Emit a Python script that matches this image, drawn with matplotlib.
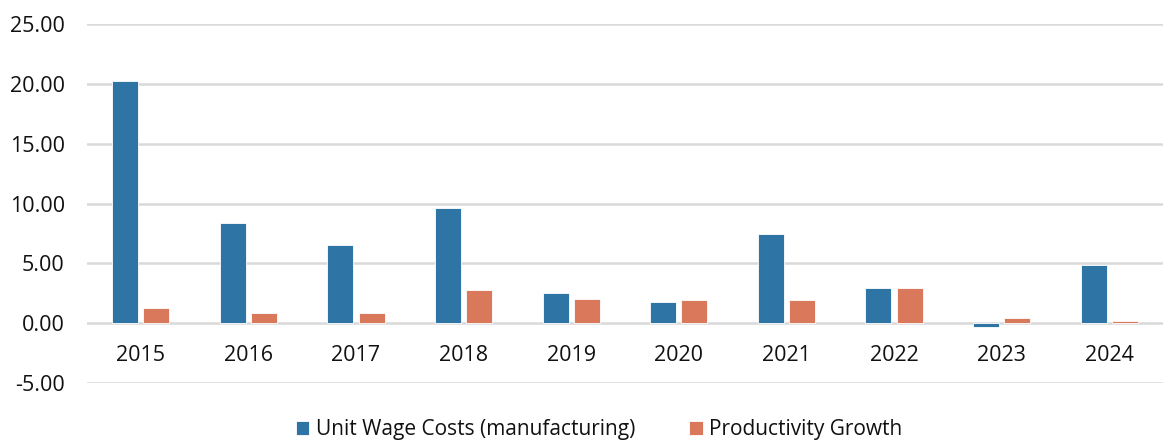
import numpy as np
import matplotlib.pyplot as plt

# [DATA] ======================================================================
years = ['2015', '2016', '2017', '2018', '2019', '2020', '2021', '2022', '2023', '2024']
unit_wage_costs = [20.2, 8.4, 6.5, 9.6, 2.55, 1.8, 7.45, 2.95, -0.35, 4.9]
productivity_growth = [1.3, 0.85, 0.85, 2.8, 2.05, 1.95, 1.95, 2.9, 0.4, 0.2]

# [PLOTTING] ==================================================================
plt.rcParams['font.family'] = ['Open Sans', 'DejaVu Sans']

blue = '#2E75A6'
orange = '#D9785A'
text_color = '#111111'

fig = plt.figure(figsize=(11.63, 4.43), dpi=100)
ax = fig.add_axes([0.0748, 0.1354, 0.9252, 0.8104])

x = np.arange(len(years))
w = 0.24
ax.bar(x - 0.145, unit_wage_costs, w, color=blue, edgecolor='white', linewidth=0.6,
       label='Unit Wage Costs (manufacturing)', zorder=3)
ax.bar(x + 0.145, productivity_growth, w, color=orange, edgecolor='white', linewidth=0.6,
       label='Productivity Growth', zorder=3)

ax.set_ylim(-5, 25)
ax.set_xlim(-0.5, len(years) - 0.5)
ax.set_yticks(np.arange(-5, 26, 5))
ax.set_yticklabels([f'{v:.2f}' for v in np.arange(-5, 26, 5)])
ax.set_xticks(x)
ax.set_xticklabels(years)

# category labels sit just under the zero line
ax.spines['bottom'].set_position(('data', 0))
for s in ['top', 'right', 'left', 'bottom']:
    ax.spines[s].set_visible(False)
ax.tick_params(axis='x', length=0, pad=16, labelsize=15.5, labelcolor=text_color)
ax.tick_params(axis='y', length=0, pad=16, labelsize=15.5, labelcolor=text_color)

ax.yaxis.grid(True, color='#D9D9D9', linewidth=1.8, zorder=0)
ax.set_axisbelow(True)

fig.legend(loc='center', bbox_to_anchor=(0.515, 1 - 430 / 443), ncol=2, frameon=False,
           fontsize=15, handlelength=0.65, handleheight=0.65, handletextpad=0.3,
           columnspacing=2.6, labelcolor=text_color, borderaxespad=0, borderpad=0)

fig.savefig('out.png', dpi=100)
